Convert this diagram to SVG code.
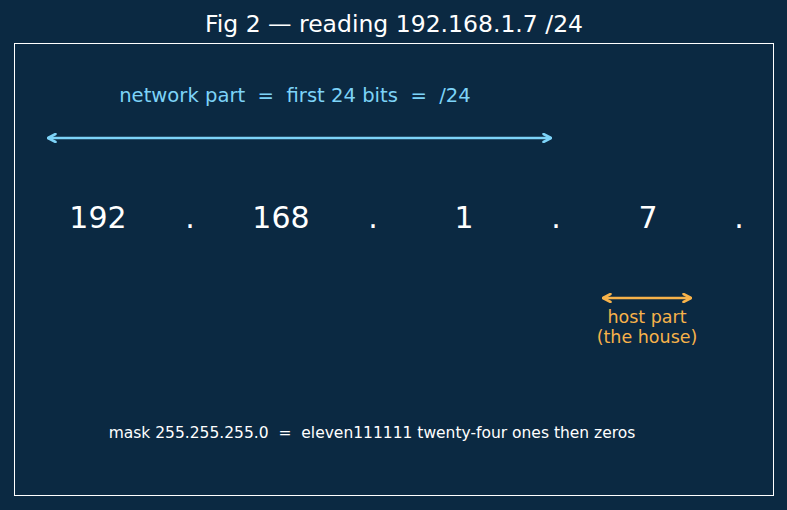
<svg xmlns="http://www.w3.org/2000/svg" width="787" height="510" viewBox="0 0 787 510">
<defs>
<style>
text{font-family:"DejaVu Sans","Liberation Sans",sans-serif;white-space:pre}
.t{fill:#ffffff;font-size:23.5px;text-anchor:middle}
.num{fill:#ffffff;font-size:30px;text-anchor:middle}
.blue{fill:#7dd3f8;font-size:19.6px;text-anchor:middle}
.orange{fill:#f7b24a;font-size:17.5px;text-anchor:middle}
.mask{fill:#ffffff;font-size:15.5px;text-anchor:middle}
</style>
<marker id="ab" viewBox="0 0 10 10" refX="9" refY="5" markerWidth="10" markerHeight="10" markerUnits="userSpaceOnUse" orient="auto-start-reverse"><path d="M1.5,1 L9,5 L1.5,9" fill="none" stroke="#7dd3f8" stroke-width="2.6" stroke-linecap="round" stroke-linejoin="round"/></marker>
<marker id="ao" viewBox="0 0 10 10" refX="9" refY="5" markerWidth="10" markerHeight="10" markerUnits="userSpaceOnUse" orient="auto-start-reverse"><path d="M1.5,1 L9,5 L1.5,9" fill="none" stroke="#f7b24a" stroke-width="2.6" stroke-linecap="round" stroke-linejoin="round"/></marker>
</defs>
<rect width="787" height="510" fill="#0b2942"/>
<text class="t" x="394" y="32" xml:space="preserve">Fig 2 — reading 192.168.1.7 /24</text>
<rect x="14.5" y="43.5" width="759" height="452" fill="none" stroke="#ffffff" stroke-width="1"/>
<g id="network-label"><text class="blue" x="295" y="102" xml:space="preserve">network part  =  first 24 bits  =  /24</text></g>
<g id="octets">
<text class="num" x="98" y="228">192</text>
<text class="num" x="190" y="228">.</text>
<text class="num" x="281" y="228">168</text>
<text class="num" x="373" y="228">.</text>
<text class="num" x="464" y="228">1</text>
<text class="num" x="556" y="228">.</text>
<text class="num" x="648" y="228">7</text>
<text class="num" x="739" y="228">.</text>
</g>
<g id="host-label">
<text class="orange" x="647" y="323">host part</text>
<text class="orange" x="647" y="343">(the house)</text>
</g>
<g id="connectors">
<line x1="48" y1="138" x2="551" y2="138" stroke="#7dd3f8" stroke-width="2.6" marker-start="url(#ab)" marker-end="url(#ab)"/>
<line x1="603" y1="298" x2="691" y2="298" stroke="#f7b24a" stroke-width="2.6" marker-start="url(#ao)" marker-end="url(#ao)"/>
</g>
<g id="mask"><text class="mask" x="372" y="438" xml:space="preserve">mask 255.255.255.0  =  eleven111111 twenty-four ones then zeros</text></g>
</svg>
